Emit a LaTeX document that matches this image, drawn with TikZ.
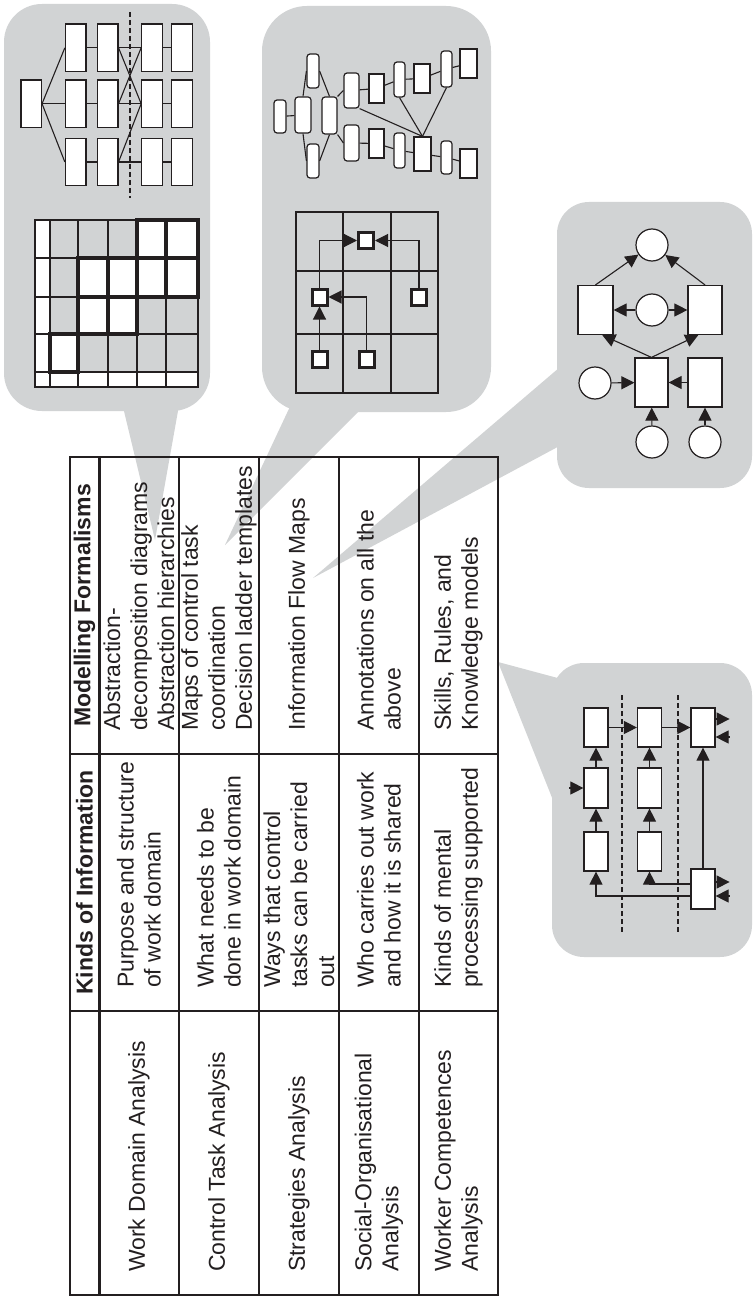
\documentclass[tikz,border=0pt]{standalone}
\usepackage{fontspec}
\setmainfont{Liberation Sans}
\usetikzlibrary{arrows.meta,calc}
\definecolor{ink}{HTML}{231F20}
\definecolor{bubble}{HTML}{D1D3D4}
\begin{document}
\begin{tikzpicture}[x=1pt,y=-1pt,
  sz/.style 2 args={minimum width=#1pt,minimum height=#2pt},
  wbox/.style={draw=ink,fill=white,line width=1.2pt,inner sep=0pt,rectangle},
  rbox/.style={wbox,rounded corners=3pt},
  sbox/.style={draw=ink,fill=white,line width=3pt,inner sep=0pt,minimum width=15pt,minimum height=16pt},
  place/.style={draw=ink,fill=white,line width=1.2pt,circle,inner sep=0pt,minimum size=32pt},
  link/.style={draw=ink,line width=1.1pt},
  arr/.style={link,-{Triangle[length=13pt,width=13pt]}},
  thingrid/.style={draw=ink,line width=1.1pt},
  strong/.style={draw=ink,fill=white,line width=3.6pt},
  divider/.style={draw=ink,dash pattern=on 5pt off 3pt,line width=1.1pt},
  rule/.style={draw=ink,line width=2.2pt},
  cell/.style={rotate=90,anchor=west,inner sep=0pt,align=left,text=ink,font=\fontsize{23}{27}\selectfont},
  head/.style={rotate=90,inner sep=0pt,text=ink,font=\fontsize{23}{27}\selectfont\bfseries},
]
\useasboundingbox (0,0) rectangle (753,1297);
\fill[white] (0,0) rectangle (753,1297);

% ---------- speech bubbles ----------
\fill[bubble,rounded corners=38pt] (4,4) rectangle (210,411);
\fill[bubble] (116.5,380) -- (183.5,380) -- (155,540) -- cycle;
\fill[bubble,rounded corners=45pt] (262,6) rectangle (491,412);
\fill[bubble] (302.5,380) -- (390,380) -- (225,545) -- cycle;
\fill[bubble,rounded corners=32pt] (557,202) rectangle (752,488);
\fill[bubble] (580,350) -- (580,435) -- (313,578) -- cycle;
\fill[bubble,rounded corners=32pt] (552,663) rectangle (752,957);
\fill[bubble] (580,684) -- (580,868) -- (498,662) -- cycle;

% ---------- abstraction-decomposition diagram ----------
\node[wbox,sz={20.5}{47.5}] (L) at (31.2,103.7) {};
\foreach \c/\x in {A/75.7,B/107.7,C/152,D/182}{
  \node[wbox,sz={20.5}{47.5}] (\c1) at (\x,47.8) {};
  \node[wbox,sz={20.5}{47.5}] (\c2) at (\x,103.7) {};
  \node[wbox,sz={20.5}{47.5}] (\c3) at (\x,162) {};
}
\foreach \t in {A1,A2,A3} \draw[link] (L.east) -- (\t.west);
\foreach \r in {1,2,3}{
  \draw[link] (A\r) -- (B\r);
  \draw[link] (C\r) -- (D\r);
}
\draw[link] (B1) -- (C1);
\draw[link] (B1.east) -- (C2.west);
\draw[link] (B2.east) -- (C1.west);
\draw[link] (B2) -- (C2);
\draw[link] (B3.east) -- (C2.west);
\draw[link] (B3) -- (C3);
\coordinate (dvT) at (130,12);
\coordinate (dvB) at (130,198);
\draw[divider] (dvT) -- (dvB);

% ---------- means-ends matrix ----------
\fill[white] (35,220) rectangle (50,387);
\fill[white] (35,372) rectangle (198,387);
\draw[thingrid] (35,220) rectangle (198,387);
\foreach \x in {50,78,108,137,166} \draw[thingrid] (\x,220) -- (\x,387);
\foreach \y in {258,297,334,372} \draw[thingrid] (35,\y) -- (198,\y);
\foreach \xa/\ya/\xb/\yb in {137/220/166/258,166/220/198/258,
    78/258/108/297,108/258/137/297,137/258/166/297,166/258/198/297,
    78/297/108/334,108/297/137/334,50/334/78/372}
  \draw[strong] (\xa,\ya) rectangle (\xb,\yb);

% ---------- contextual activity network ----------
\node[rbox,sz={12}{33}] (na) at (280,116.5) {};
\node[rbox,sz={16}{36}] (nb) at (303,115) {};
\node[rbox,sz={12}{34}] (nc) at (313,71) {};
\node[rbox,sz={12}{34}] (nd) at (313,161) {};
\node[rbox,sz={15}{37}] (ne) at (329.5,115.5) {};
\node[rbox,sz={15}{35}] (nf) at (351.5,90.5) {};
\node[rbox,sz={15}{36}] (ng) at (351.5,143) {};
\node[wbox,sz={15}{29}] (nh) at (376.5,88.5) {};
\node[wbox,sz={15}{29}] (ni) at (376.5,143.5) {};
\node[rbox,sz={11}{35}] (nj) at (399.5,79.5) {};
\node[rbox,sz={11}{35}] (nk) at (399.5,150.5) {};
\node[wbox,sz={16}{29}] (nl) at (422,78.5) {};
\node[wbox,sz={17}{34}] (nm) at (422.5,154) {};
\node[rbox,sz={11}{36}] (nn) at (446.5,69) {};
\node[rbox,sz={11}{33}] (no) at (446.5,157.5) {};
\node[wbox,sz={17}{29}] (np) at (468.5,63.5) {};
\node[wbox,sz={17}{29}] (nq) at (468.5,163.5) {};
\draw[link] (na) -- (nb);
\draw[link] (nb.north) -- (nc.west);
\draw[link] (nc.east) -- (ne.north);
\draw[link] (nb.south) -- (nd.west);
\draw[link] (nd.east) -- (ne.south);
\draw[link] (ne.north east) -- (nf.west);
\draw[link] (ne.south east) -- (ng.west);
\draw[link] (nf) -- (nh) -- (nj) -- (nl) -- (nn) -- (np);
\draw[link] (ng) -- (ni) -- (nk) -- (nm) -- (no) -- (nq);
\draw[link] (nf.south east) -- (nm.north);
\draw[link] (nj.south) -- (nm.north);
\draw[link] (nn.south) -- (nm.north);

% ---------- information flow map ----------
\draw[thingrid] (296,212) rectangle (438,393);
\draw[thingrid] (343,212) -- (343,393) (391,212) -- (391,393)
  (296,271) -- (438,271) (296,334) -- (438,334);
\node[sbox] (s1) at (366,240.5) {};
\node[sbox] (s2) at (319.5,297) {};
\node[sbox] (s3) at (419,297) {};
\node[sbox] (s4) at (319.5,359) {};
\node[sbox] (s5) at (366.5,359) {};
\draw[arr] (s4) -- (s2);
\draw[arr] (s5.north) |- (s2.east);
\draw[arr] (s2.north) |- (s1.west);
\draw[arr] (s3.north) |- (s1.east);

% ---------- place/transition net ----------
\node[place] (pt) at (652,245) {};
\node[wbox,sz={35}{49}] (tl) at (595.5,310) {};
\node[place] (pm) at (652,310) {};
\node[wbox,sz={34}{49}] (tr) at (705,310) {};
\node[wbox,sz={33}{49}] (tc) at (651.5,382.5) {};
\node[wbox,sz={34}{49}] (tb) at (705,382.5) {};
\node[place] (pl) at (595,383) {};
\node[place] (pb) at (652,442) {};
\node[place] (pr) at (705,442) {};
\draw[arr] (tl.north) -- (pt);
\draw[arr] (tr.north) -- (pt);
\draw[arr] (pm) -- (tl);
\draw[arr] (pm) -- (tr);
\draw[arr] (tc.north) -- (tl.285);
\draw[arr] (tc.north) -- (tr.255);
\draw[arr] (pl) -- (tc);
\draw[arr] (tb) -- (tc);
\draw[arr] (pb) -- (tc);
\draw[arr] (pr) -- (tb);

% ---------- competency lanes ----------
\coordinate (d1T) at (622,695); \coordinate (d1B) at (622,932);
\coordinate (d2T) at (678,695); \coordinate (d2B) at (678,932);
\draw[divider] (d1T) -- (d1B);
\draw[divider] (d2T) -- (d2B);
\node[wbox,sz={24}{39}] (q11) at (596,727.5) {};
\node[wbox,sz={24}{40}] (q12) at (596,788) {};
\node[wbox,sz={24}{39}] (q13) at (596,851.5) {};
\node[wbox,sz={24}{39}] (q21) at (649.5,727.5) {};
\node[wbox,sz={24}{40}] (q22) at (649.5,788) {};
\node[wbox,sz={24}{39}] (q23) at (649.5,851.5) {};
\node[wbox,sz={24}{39}] (q31) at (703,727.5) {};
\node[wbox,sz={24}{40}] (q3b) at (703,889) {};
\draw[arr] (q13) -- (q12);
\draw[arr] (q12) -- (q11);
\draw[arr] (q23) -- (q22);
\draw[arr] (q22) -- (q21);
\draw[arr] (q11) -- (q21);
\draw[arr] (q21) -- (q31);
\draw[arr] (q3b) -- (q31);
\draw[arr] ($(q3b.west)+(0,-5)$) -| (q23.south);
\draw[arr] ($(q3b.west)+(0,7)$) -| (q13.south);
\coordinate (in1) at ($(q12.west)+(-14,0)$);
\draw[arr] (in1) -- (q12.west);
\coordinate (o1a) at ($(q31.east)+(0,-8.5)$);  \coordinate (o1b) at ($(q31.east)+(14,-8.5)$);
\coordinate (i1a) at ($(q31.east)+(14,9.5)$);  \coordinate (i1b) at ($(q31.east)+(0,9.5)$);
\coordinate (o2a) at ($(q3b.east)+(0,-7)$);    \coordinate (o2b) at ($(q3b.east)+(14,-7)$);
\coordinate (i2a) at ($(q3b.east)+(14,7)$);    \coordinate (i2b) at ($(q3b.east)+(0,7)$);
\draw[arr] (o1a) -- (o1b);
\draw[arr] (i1a) -- (i1b);
\draw[arr] (o2a) -- (o2b);
\draw[arr] (i2a) -- (i2b);

% ---------- table ----------
\foreach \x in {179,259,339,419} \draw[rule] (\x,457) -- (\x,1295);
\draw[draw=ink,line width=3pt] (99,457) -- (99,1295);
\foreach \y in {754,1011} \draw[rule] (70,\y) -- (498,\y);
\draw[draw=ink,line width=2.6pt] (70,457) rectangle (498,1295);

\node[head] (h2) at (84.5,882.5) {Kinds of Information};
\node[head] (h3) at (84.5,605.5) {Modelling Formalisms};

\node[cell] (a1) at (139,1272) {Work Domain Analysis};
\node[cell] (b1) at (139,988) {Purpose and structure\\of work domain};
\node[cell] (c1) at (139,731) {Abstraction-\\decomposition diagrams\\Abstraction hierarchies};

\node[cell] (a2) at (219,1272) {Control Task Analysis};
\node[cell] (b2) at (219,988) {What needs to be\\done in work domain};
\node[cell] (c2) at (219,731) {Maps of control task\\coordination\\Decision ladder templates};

\node[cell] (a3) at (299,1272) {Strategies Analysis};
\node[cell] (b3) at (299,988) {Ways that control\\tasks can be carried\\out};
\node[cell] (c3) at (299,731) {Information Flow Maps};

\node[cell] (a4) at (379,1272) {Social-Organisational\\Analysis};
\node[cell] (b4) at (379,988) {Who carries out work\\and how it is shared};
\node[cell] (c4) at (379,731) {Annotations on all the\\above};

\node[cell] (a5) at (458.5,1272) {Worker Competences\\Analysis};
\node[cell] (b5) at (458.5,988) {Kinds of mental\\processing supported};
\node[cell] (c5) at (458.5,731) {Skills, Rules, and\\Knowledge models};
\end{tikzpicture}
\end{document}
